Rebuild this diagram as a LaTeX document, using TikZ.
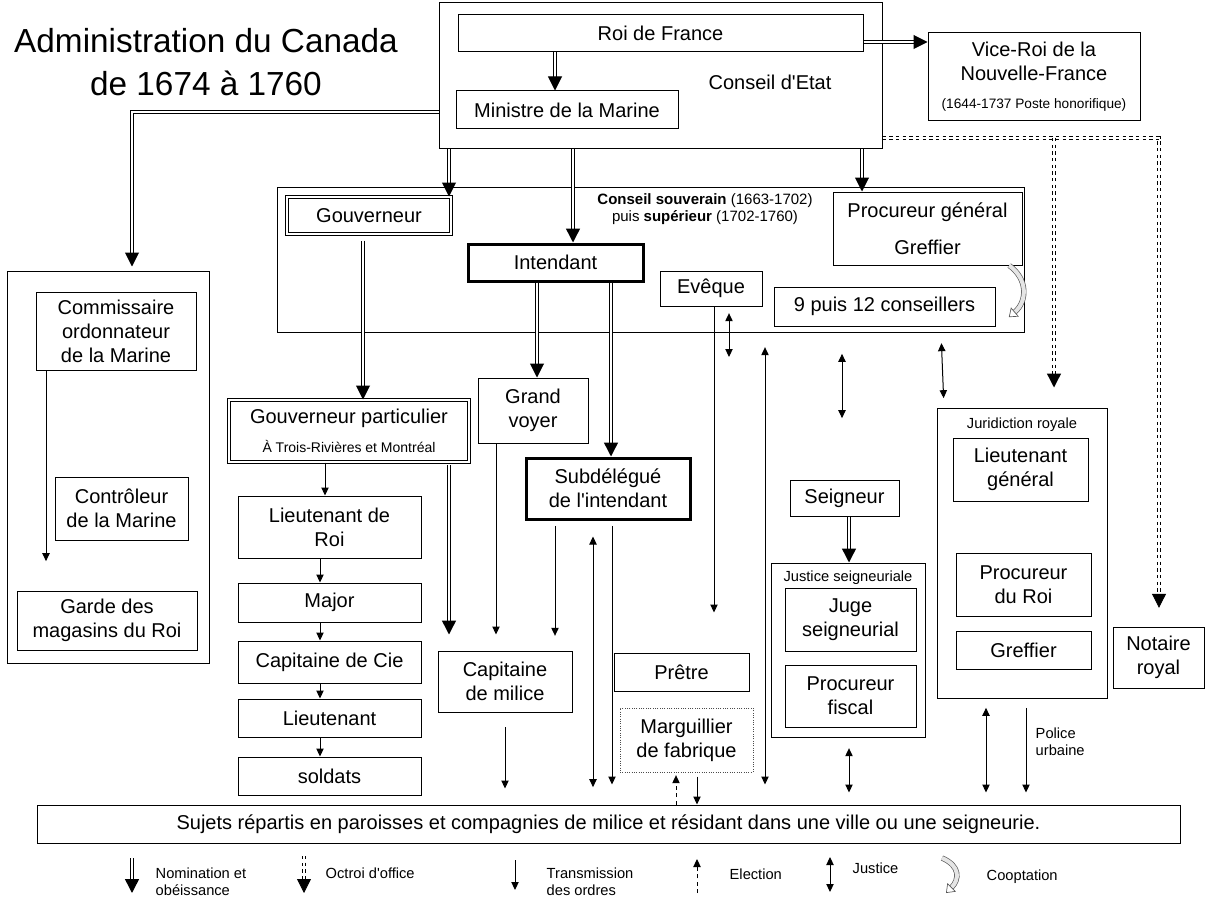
\documentclass[tikz,border=0pt]{standalone}
\usepackage{fontspec}
\setmainfont{Liberation Sans}
\usetikzlibrary{arrows.meta,fit}

\tikzset{
  box/.style={draw,line width=0.75pt,inner sep=0pt},
  dbox/.style={box,double,double distance=1.5pt},
  tbox/.style={box,line width=2.25pt},
  txt/.style={align=center,inner sep=0pt,font=\fontsize{15}{18}\selectfont},
  small/.style={font=\fontsize{11}{13}\selectfont},
  nomination/.style={double,line width=0.75pt,double distance=1.5pt,-{Triangle[length=10.5pt,width=10.5pt]}},
  nomheavy/.style={nomination,line width=1.1pt,double distance=1.3pt},
  transmission/.style={line width=0.75pt,-{Triangle[length=6pt,width=5.5pt]}},
  justice/.style={line width=0.75pt,{Triangle[length=6pt,width=5.5pt]}-{Triangle[length=6pt,width=5.5pt]}},
  election/.style={transmission,dash pattern=on 3pt off 2.5pt},
  octroi/.style={nomination,dash pattern=on 2.5pt off 2.5pt,line width=0.6pt,double distance=1.2pt},
  cooptation/.style={draw=gray!70!black,line width=0.5pt,double=gray!20,double distance=3pt,-{Triangle[open,length=6pt,width=9pt,fill=white]}},
}

\begin{document}
\begin{tikzpicture}[x=0.75pt,y=-0.75pt]
\useasboundingbox (0,0) rectangle (1222,899);

\node[font=\fontsize{25}{32}\selectfont,align=center] (titre) at (206,62) {Administration du Canada\\de 1674 à 1760};

% Conseil d'Etat
\node[box,fit={(439,3) (882,149)}] (ce) {};
\node[txt] (celab) at (770,82) {Conseil d\textquotesingle Etat};
\node[box,fit={(458,15) (863,52)},label={[txt]center:Roi de France}] (roi) {};
\node[box,fit={(456,91) (678,129)},label={[txt]center:Ministre de la Marine}] (min) {};
\node[box,fit={(928,33) (1140,121)},label={[txt]center:{Vice-Roi de la\\Nouvelle-France\\[3pt]{\fontsize{10.25}{11}\selectfont(1644-1737 Poste honorifique)}}}] (vice) {};

% Marine
\node[box,fit={(7,271) (209,663)}] (mar) {};
\node[box,fit={(36,292) (196,370)},label={[txt]center:{Commissaire\\ordonnateur\\de la Marine}}] (com) {};
\node[box,fit={(55,477) (188,540)},label={[txt]center:{Contrôleur\\de la Marine}}] (ctl) {};
\node[box,fit={(17,591) (197,650)},label={[txt]center:{Garde des\\magasins du Roi}}] (gar) {};

% Conseil souverain
\node[box,fit={(277,187) (1024,332)}] (cs) {};
\node[font=\fontsize{11.25}{12.75}\selectfont,align=center] (cslab) at (705,209) {\textbf{Conseil souverain} (1663-1702)\\puis \textbf{supérieur} (1702-1760)};
\node[dbox,fit={(287,197) (451,234)},label={[txt]center:Gouverneur}] (gouv) {};
\node[tbox,fit={(468,244) (643,281)},label={[txt]center:Intendant}] (int) {};
\node[box,fit={(660,271) (762,306)},label={[txt]center:Evêque}] (evq) {};
\node[box,fit={(833,192) (1022,265)},label={[txt]center:{Procureur général\\[10pt]Greffier}}] (proc) {};
\node[box,fit={(774,287) (995,326)},label={[txt]center:9 puis 12 conseillers}] (c12) {};

% milieu
\node[dbox,fit={(229,400) (469,462)},label={[txt]center:{Gouverneur particulier\\[4pt]{\fontsize{10.5}{11}\selectfont À Trois-Rivières et Montréal}}}] (gp) {};
\node[box,fit={(478,378) (588,443)},label={[txt]center:{Grand\\voyer}}] (gv) {};
\node[tbox,fit={(526,458) (690,519)},label={[txt]center:{Subdélégué\\de l\textquotesingle intendant}}] (sub) {};
\node[box,fit={(238,496) (421,558)},label={[txt]center:{Lieutenant de\\Roi}}] (ldr) {};
\node[box,fit={(238,583) (421,622)},label={[txt]center:Major}] (maj) {};
\node[box,fit={(238,641) (421,683)},label={[txt]center:Capitaine de Cie}] (cie) {};
\node[box,fit={(238,699) (421,737)},label={[txt]center:Lieutenant}] (lt) {};
\node[box,fit={(238,757) (421,795)},label={[txt]center:soldats}] (sol) {};
\node[box,fit={(438,651) (572,712)},label={[txt]center:{Capitaine\\de milice}}] (mil) {};
\node[box,fit={(614,653) (749,691)},label={[txt]center:Prêtre}] (pre) {};
\node[box,densely dotted,draw=gray!60!black,fit={(620,708) (753,772)},label={[txt]center:{Marguillier\\de fabrique}}] (marg) {};

% justice
\node[box,fit={(790,480) (899,516)},label={[txt]center:Seigneur}] (sg) {};
\node[box,fit={(771,563) (925,737)}] (js) {};
\node[small] (jslab) at (848,578) {Justice seigneuriale};
\node[box,fit={(785,588) (916,651)},label={[txt]center:{Juge\\seigneurial}}] (juge) {};
\node[box,fit={(785,665) (916,727)},label={[txt]center:{Procureur\\fiscal}}] (pf) {};
\node[box,fit={(937,408) (1107,698)}] (jr) {};
\node[small] (jrlab) at (1022,425) {Juridiction royale};
\node[box,fit={(953,438) (1088,501)},label={[txt]center:{Lieutenant\\général}}] (lg) {};
\node[box,fit={(956,553) (1091,616)},label={[txt]center:{Procureur\\du Roi}}] (pr) {};
\node[box,fit={(956,631) (1091,669)},label={[txt]center:Greffier}] (gre) {};
\node[box,fit={(1113,627) (1204,688)},label={[txt]center:{Notaire\\royal}}] (nota) {};
\node[small,anchor=west,align=left] (pol) at (1031,742) {Police\\urbaine};

\node[box,fit={(37,805) (1180,843)},label={[txt]center:Sujets répartis en paroisses et compagnies de milice et résidant dans une ville ou une seigneurie.}] (bar) {};

% nomination et obeissance
\draw[nomination] (roi.south -| 555,0) -- (min.north -| 555,0);
\draw[nomination] (roi.east |- 0,42) -- (vice.west |- 0,42);
\draw[nomination,shorten >=3pt] (ce.west |- 0,112) -| (mar.north -| 132,0);
\draw[nomination] (ce.south -| 449,0) -- (gouv.north -| 449,0);
\draw[nomheavy] (ce.south -| 573,0) -- (int.north -| 573,0);
\draw[nomination] (ce.south -| 862,0) -- (proc.north -| 862,0);
\draw[nomination,shorten <=4.5pt] (gouv.south -| 363,0) -- (gp.north -| 363,0);
\draw[nomination] (int.south -| 537,0) -- (gv.north -| 537,0);
\draw[nomheavy] (int.south -| 611,0) -- (sub.north -| 611,0);
\draw[nomheavy,shorten <=2pt,shorten >=12pt] (gp.south -| 449,0) -- (mil.north -| 449,0);
\draw[nomheavy] (sg.south -| 849,0) -- (js.north -| 849,0);

% transmission des ordres
\draw[transmission] (gp.south -| 325,0) -- (ldr.north -| 325,0);
\foreach \a/\b in {ldr/maj,maj/cie,cie/lt,lt/sol}
  \draw[transmission] (\a.south -| 320,0) -- (\b.north -| 320,0);
\draw[transmission,shorten >=22pt] (com.south -| 46,0) -- (gar.north -| 46,0);
\draw[transmission,shorten >=12pt] (gv.south -| 496,0) -- (mil.north -| 496,0);
\draw[transmission,shorten <=4pt,shorten >=11pt] (sub.south -| 555,0) -- (mil.north -| 555,0);
\draw[transmission,shorten <=4pt,shorten >=15pt] (sub.south -| 612,0) -- (bar.north -| 612,0);
\draw[transmission,shorten >=30pt] (evq.south -| 714,0) -- (pre.north -| 714,0);
\draw[transmission,shorten <=11pt,shorten >=12pt] (mil.south -| 505,0) -- (bar.north -| 505,0);
\draw[transmission,shorten <=3pt] (marg.south -| 697,0) -- (bar.north -| 697,0);
\draw[transmission,shorten <=7pt,shorten >=9pt] (jr.south -| 1026,0) -- (bar.north -| 1026,0);
\draw[election,shorten >=2pt] (bar.north -| 676,0) -- (marg.south -| 676,0);

% justice
\coordinate (evqj) at (729,357);
\draw[justice,shorten <=5pt] (evq.south -| 729,0) -- (evqj);
\draw[justice,shorten <=12pt,shorten >=13pt] (sub.south -| 593,0) -- (bar.north -| 593,0);
\draw[justice,shorten <=11pt,shorten >=15pt] (cs.south -| 765,0) -- (bar.north -| 765,0);
\draw[justice,shorten <=16pt,shorten >=46pt] (cs.south -| 842,0) -- (sg.north -| 842,0);
\draw[justice,shorten <=8pt,shorten >=7pt] (cs.south -| 941,0) -- (jr.north -| 944,0);
\draw[justice,shorten <=8pt,shorten >=9pt] (js.south -| 849,0) -- (bar.north -| 849,0);
\draw[justice,shorten <=7pt,shorten >=9pt] (jr.south -| 986,0) -- (bar.north -| 986,0);

% octroi d'office
\coordinate (oct) at (1054,138);
\draw[octroi,shorten >=14pt] (ce.east |- 0,138) -| (nota.north -| 1159,0);
\draw[octroi,line width=1pt,double distance=1.4pt,shorten >=15pt] (oct) -- (jr.north -| 1054,0);

% cooptation
\draw[cooptation] ([xshift=-10pt]proc.south east) .. controls +(14pt,-10pt) and +(14pt,12pt) .. ([xshift=10pt,yshift=-8pt]c12.east);

% legende
\draw[nomheavy] (132,858) -- (132,893);
\node[small,anchor=west,align=left] (lnom) at (151,882) {Nomination et\\obéissance};
\draw[octroi] (304,856) -- (304,893);
\node[small,anchor=west] (loct) at (321,873) {Octroi d\textquotesingle office};
\draw[transmission] (515,860) -- (515,890);
\node[small,anchor=west,align=left] (ltra) at (542,882) {Transmission\\des ordres};
\draw[election] (697,893) -- (697,859);
\node[small,anchor=west] (lele) at (725,874) {Election};
\draw[justice] (830,857) -- (830,892);
\node[small,anchor=west] (ljus) at (848,868) {Justice};
\draw[cooptation] (942,858) .. controls +(14pt,-6pt) and +(10pt,10pt) .. (946,893);
\node[small,anchor=west] (lcoo) at (982,877) {Cooptation};
\end{tikzpicture}
\end{document}
